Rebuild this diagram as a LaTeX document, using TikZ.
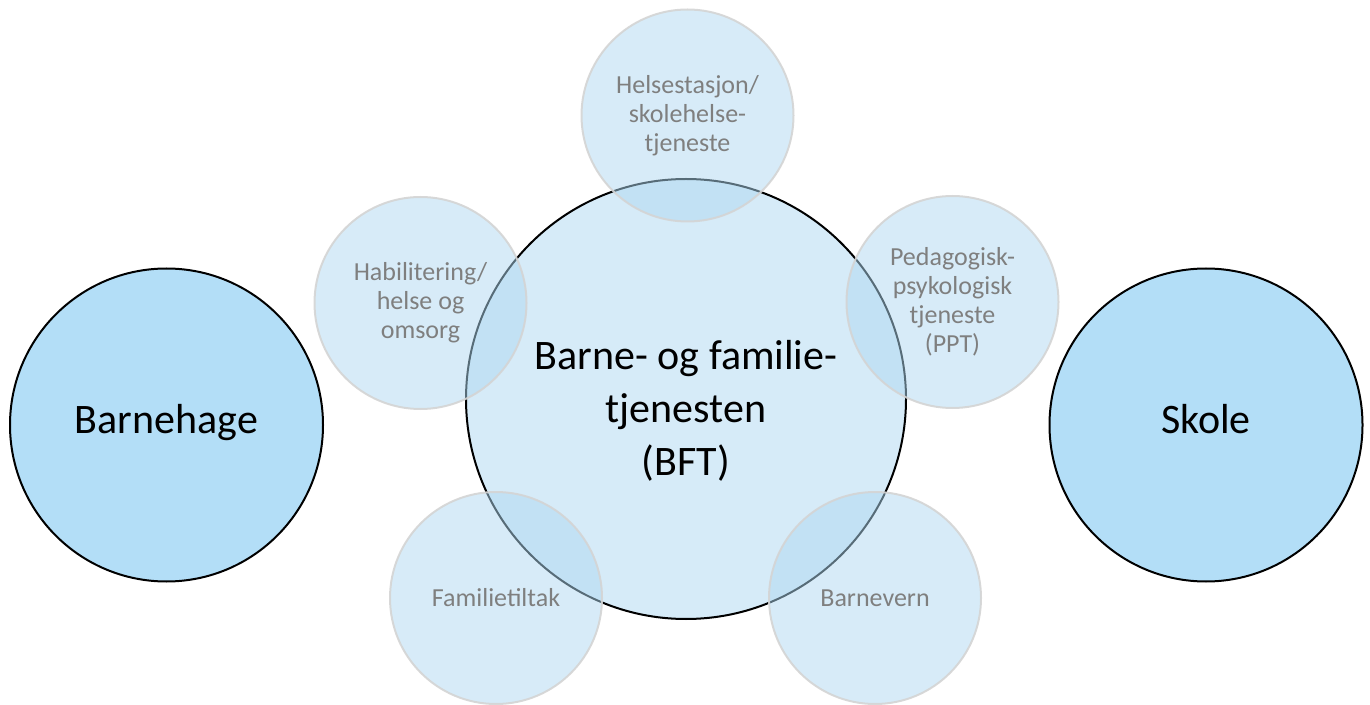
\documentclass[tikz,border=0pt]{standalone}
\usepackage{fontspec}
\setmainfont{Carlito}
\definecolor{hubblue}{RGB}{214,235,248}
\definecolor{sideblue}{RGB}{179,222,247}
\definecolor{satblue}{RGB}{175,216,241}
\definecolor{satline}{RGB}{212,212,212}
\definecolor{sattext}{RGB}{127,127,127}
\begin{document}
\begin{tikzpicture}[x=0.5pt,y=-0.5pt,
    side/.style={circle,draw=black,line width=1pt,fill=sideblue,minimum size=156.5pt,inner sep=0pt,text height=13pt,text depth=5pt,font=\fontsize{21}{25}\selectfont},
    hub/.style={circle,draw=black,line width=1pt,fill=hubblue,minimum size=220pt,inner sep=0pt},
    satellite/.style={circle,draw=satline,line width=1pt,fill=satblue,fill opacity=0.5,draw opacity=0.9,text opacity=1,text=sattext,minimum size=106pt,inner sep=0pt,align=center,font=\fontsize{13}{14.5}\selectfont}]
    \useasboundingbox (0,0) rectangle (1370,705);

    % Outer circles
    \node[side] (barnehage) at (166.5,425) {Barnehage};
    \node[side] (skole) at (1206,425) {Skole};

    % Centre
    \node[hub] (bft) at (686,399) {};
    \node[align=center,font=\fontsize{21}{26.5}\selectfont] (bftlabel) at (686,411) {Barne- og familie-\\tjenesten\\(BFT)};

    % Services around the centre
    \node[satellite] (helse) at (687.5,115.5) {Helsestasjon/\\skolehelse-\\tjeneste};
    \node[satellite] (habil) at (420.5,303) {Habilitering/\\helse og\\omsorg};
    \node[satellite] (ppt) at (952.5,302) {Pedagogisk-\\psykologisk\\tjeneste\\(PPT)};
    \node[satellite] (famtiltak) at (496,598) {Familietiltak};
    \node[satellite] (barnevern) at (875,598) {Barnevern};
\end{tikzpicture}
\end{document}
